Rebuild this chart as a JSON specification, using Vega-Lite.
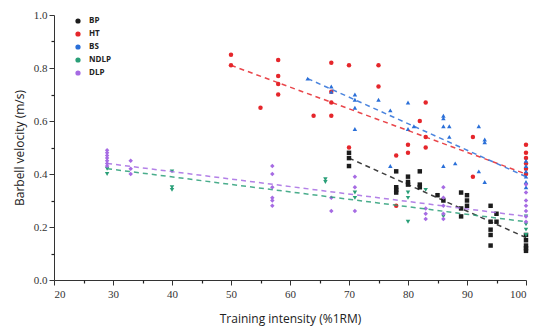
{
  "$schema": "https://vega.github.io/schema/vega-lite/v6.json",
  "width": 472,
  "height": 265,
  "autosize": {"type": "none"},
  "padding": {"left": 54, "top": 15, "right": 7, "bottom": 53},
  "background": "white",
  "config": {"view": {"stroke": null}, "legend": {"symbolType": "circle"}},
  "datasets": {
    "pts": [
      {"g": "HT", "x": 50, "y": 0.85}, {"g": "HT", "x": 50, "y": 0.81}, {"g": "HT", "x": 55, "y": 0.65},
      {"g": "HT", "x": 58, "y": 0.83}, {"g": "HT", "x": 58, "y": 0.77}, {"g": "HT", "x": 58, "y": 0.74}, {"g": "HT", "x": 58, "y": 0.70},
      {"g": "HT", "x": 64, "y": 0.62}, {"g": "HT", "x": 67, "y": 0.82}, {"g": "HT", "x": 67, "y": 0.71}, {"g": "HT", "x": 67, "y": 0.67}, {"g": "HT", "x": 67, "y": 0.62},
      {"g": "HT", "x": 70, "y": 0.81}, {"g": "HT", "x": 70, "y": 0.50}, {"g": "HT", "x": 75, "y": 0.81}, {"g": "HT", "x": 75, "y": 0.73},
      {"g": "HT", "x": 78, "y": 0.47}, {"g": "HT", "x": 78, "y": 0.28}, {"g": "HT", "x": 80, "y": 0.51}, {"g": "HT", "x": 80, "y": 0.48},
      {"g": "HT", "x": 82, "y": 0.60}, {"g": "HT", "x": 83, "y": 0.67}, {"g": "HT", "x": 83, "y": 0.54}, {"g": "HT", "x": 83, "y": 0.50},
      {"g": "HT", "x": 91, "y": 0.54}, {"g": "HT", "x": 91, "y": 0.39},
      {"g": "HT", "x": 100, "y": 0.51}, {"g": "HT", "x": 100, "y": 0.48}, {"g": "HT", "x": 100, "y": 0.46}, {"g": "HT", "x": 100, "y": 0.44}, {"g": "HT", "x": 100, "y": 0.42}, {"g": "HT", "x": 100, "y": 0.40},
      {"g": "BS", "x": 63, "y": 0.76}, {"g": "BS", "x": 67, "y": 0.73}, {"g": "BS", "x": 67, "y": 0.71},
      {"g": "BS", "x": 71, "y": 0.70}, {"g": "BS", "x": 71, "y": 0.68}, {"g": "BS", "x": 71, "y": 0.65}, {"g": "BS", "x": 71, "y": 0.57},
      {"g": "BS", "x": 75, "y": 0.68}, {"g": "BS", "x": 77, "y": 0.64}, {"g": "BS", "x": 77, "y": 0.43},
      {"g": "BS", "x": 80, "y": 0.67}, {"g": "BS", "x": 80, "y": 0.57}, {"g": "BS", "x": 81, "y": 0.58},
      {"g": "BS", "x": 86, "y": 0.62}, {"g": "BS", "x": 86, "y": 0.61}, {"g": "BS", "x": 86, "y": 0.58}, {"g": "BS", "x": 86, "y": 0.43},
      {"g": "BS", "x": 87, "y": 0.58}, {"g": "BS", "x": 87, "y": 0.54}, {"g": "BS", "x": 88, "y": 0.44},
      {"g": "BS", "x": 92, "y": 0.58}, {"g": "BS", "x": 92, "y": 0.41}, {"g": "BS", "x": 93, "y": 0.53}, {"g": "BS", "x": 93, "y": 0.52}, {"g": "BS", "x": 93, "y": 0.37},
      {"g": "BS", "x": 100, "y": 0.45}, {"g": "BS", "x": 100, "y": 0.43}, {"g": "BS", "x": 100, "y": 0.41}, {"g": "BS", "x": 100, "y": 0.39}, {"g": "BS", "x": 100, "y": 0.37}, {"g": "BS", "x": 100, "y": 0.35},
      {"g": "BP", "x": 70, "y": 0.48}, {"g": "BP", "x": 70, "y": 0.46}, {"g": "BP", "x": 70, "y": 0.43},
      {"g": "BP", "x": 78, "y": 0.41}, {"g": "BP", "x": 78, "y": 0.35}, {"g": "BP", "x": 78, "y": 0.34}, {"g": "BP", "x": 78, "y": 0.33},
      {"g": "BP", "x": 80, "y": 0.39}, {"g": "BP", "x": 80, "y": 0.37}, {"g": "BP", "x": 80, "y": 0.36},
      {"g": "BP", "x": 82, "y": 0.41}, {"g": "BP", "x": 82, "y": 0.36}, {"g": "BP", "x": 82, "y": 0.35},
      {"g": "BP", "x": 85, "y": 0.32}, {"g": "BP", "x": 86, "y": 0.30},
      {"g": "BP", "x": 89, "y": 0.33}, {"g": "BP", "x": 89, "y": 0.27}, {"g": "BP", "x": 89, "y": 0.24},
      {"g": "BP", "x": 90, "y": 0.32}, {"g": "BP", "x": 90, "y": 0.30}, {"g": "BP", "x": 90, "y": 0.28},
      {"g": "BP", "x": 94, "y": 0.28}, {"g": "BP", "x": 94, "y": 0.22}, {"g": "BP", "x": 94, "y": 0.19}, {"g": "BP", "x": 94, "y": 0.17}, {"g": "BP", "x": 94, "y": 0.13},
      {"g": "BP", "x": 95, "y": 0.25}, {"g": "BP", "x": 95, "y": 0.22},
      {"g": "BP", "x": 100, "y": 0.17}, {"g": "BP", "x": 100, "y": 0.15}, {"g": "BP", "x": 100, "y": 0.13}, {"g": "BP", "x": 100, "y": 0.12}, {"g": "BP", "x": 100, "y": 0.11},
      {"g": "NDLP", "x": 29, "y": 0.42}, {"g": "NDLP", "x": 29, "y": 0.40}, {"g": "NDLP", "x": 40, "y": 0.41}, {"g": "NDLP", "x": 40, "y": 0.35}, {"g": "NDLP", "x": 40, "y": 0.34},
      {"g": "NDLP", "x": 66, "y": 0.38}, {"g": "NDLP", "x": 66, "y": 0.37}, {"g": "NDLP", "x": 71, "y": 0.33}, {"g": "NDLP", "x": 71, "y": 0.31},
      {"g": "NDLP", "x": 80, "y": 0.33}, {"g": "NDLP", "x": 80, "y": 0.31}, {"g": "NDLP", "x": 80, "y": 0.22}, {"g": "NDLP", "x": 83, "y": 0.34}, {"g": "NDLP", "x": 86, "y": 0.24},
      {"g": "NDLP", "x": 100, "y": 0.24}, {"g": "NDLP", "x": 100, "y": 0.21}, {"g": "NDLP", "x": 100, "y": 0.19}, {"g": "NDLP", "x": 100, "y": 0.17},
      {"g": "DLP", "x": 29, "y": 0.49}, {"g": "DLP", "x": 29, "y": 0.48}, {"g": "DLP", "x": 29, "y": 0.47}, {"g": "DLP", "x": 29, "y": 0.46}, {"g": "DLP", "x": 29, "y": 0.45}, {"g": "DLP", "x": 29, "y": 0.44}, {"g": "DLP", "x": 29, "y": 0.43},
      {"g": "DLP", "x": 33, "y": 0.45}, {"g": "DLP", "x": 33, "y": 0.42}, {"g": "DLP", "x": 33, "y": 0.40},
      {"g": "DLP", "x": 57, "y": 0.43}, {"g": "DLP", "x": 57, "y": 0.40}, {"g": "DLP", "x": 57, "y": 0.35}, {"g": "DLP", "x": 57, "y": 0.31}, {"g": "DLP", "x": 57, "y": 0.30}, {"g": "DLP", "x": 57, "y": 0.28},
      {"g": "DLP", "x": 67, "y": 0.31}, {"g": "DLP", "x": 67, "y": 0.26},
      {"g": "DLP", "x": 71, "y": 0.39}, {"g": "DLP", "x": 71, "y": 0.35}, {"g": "DLP", "x": 71, "y": 0.26},
      {"g": "DLP", "x": 83, "y": 0.27}, {"g": "DLP", "x": 83, "y": 0.25}, {"g": "DLP", "x": 83, "y": 0.23},
      {"g": "DLP", "x": 86, "y": 0.35}, {"g": "DLP", "x": 86, "y": 0.31}, {"g": "DLP", "x": 86, "y": 0.28}, {"g": "DLP", "x": 86, "y": 0.25}, {"g": "DLP", "x": 86, "y": 0.23},
      {"g": "DLP", "x": 100, "y": 0.36}, {"g": "DLP", "x": 100, "y": 0.33}, {"g": "DLP", "x": 100, "y": 0.30}, {"g": "DLP", "x": 100, "y": 0.28}, {"g": "DLP", "x": 100, "y": 0.26}, {"g": "DLP", "x": 100, "y": 0.24}, {"g": "DLP", "x": 100, "y": 0.22}
    ],
    "fits": [
      {"g": "HT", "x": 50, "y": 0.81}, {"g": "HT", "x": 100, "y": 0.40},
      {"g": "BS", "x": 63, "y": 0.76}, {"g": "BS", "x": 100, "y": 0.39},
      {"g": "BP", "x": 70, "y": 0.46}, {"g": "BP", "x": 100, "y": 0.16},
      {"g": "DLP", "x": 29, "y": 0.44}, {"g": "DLP", "x": 100, "y": 0.24},
      {"g": "NDLP", "x": 29, "y": 0.42}, {"g": "NDLP", "x": 100, "y": 0.22}
    ]
  },
  "layer": [
    {
      "data": {"name": "pts"},
      "encoding": {
        "x": {"field": "x", "type": "quantitative", "scale": {"domain": [20, 100], "nice": false, "zero": false},
          "axis": {"orient": "bottom", "values": [20, 30, 40, 50, 60, 70, 80, 90, 100], "title": "Training intensity  (%1RM)", "grid": false,
            "domainColor": "#333", "tickColor": "#333", "tickSize": 5, "labelFont": "Liberation Serif", "labelFontSize": 11, "labelColor": "#333", "labelPadding": 3,
            "titleFont": "Open Sans", "titleFontSize": 12, "titleFontWeight": "normal", "titleColor": "#222", "titlePadding": 14}},
        "y": {"field": "y", "type": "quantitative", "scale": {"domain": [0, 1], "nice": false},
          "axis": {"orient": "left", "values": [0, 0.2, 0.4, 0.6, 0.8, 1.0], "format": ".1f", "title": "Barbell velocity  (m/s)", "grid": false,
            "domainColor": "#333", "tickColor": "#333", "tickSize": 5, "labelFont": "Liberation Serif", "labelFontSize": 11, "labelColor": "#333", "labelPadding": 2,
            "titleFont": "Open Sans", "titleFontSize": 12, "titleFontWeight": "normal", "titleColor": "#222", "titlePadding": 7}},
        "color": {"field": "g", "type": "nominal",
          "scale": {"domain": ["BP", "HT", "BS", "NDLP", "DLP"], "range": ["#1c1c1c", "#e5262b", "#2a6fd8", "#2a9f78", "#a66be3"]},
          "legend": {"title": null, "orient": "none", "legendX": 20, "legendY": 2, "symbolType": "circle", "symbolSize": 14,
            "labelFont": "Open Sans", "labelFontSize": 8, "labelFontWeight": "bold", "labelColor": "#222", "rowPadding": 3, "labelOffset": 7}}
      },
      "layer": [
        {"transform": [{"filter": "datum.g === 'BP'"}], "mark": {"type": "point", "filled": true, "size": 20, "shape": "square", "opacity": 1}},
        {"transform": [{"filter": "datum.g === 'HT'"}], "mark": {"type": "point", "filled": true, "size": 20, "shape": "circle", "opacity": 1}},
        {"transform": [{"filter": "datum.g === 'BS'"}], "mark": {"type": "point", "filled": true, "size": 20, "shape": "triangle-up", "opacity": 1}},
        {"transform": [{"filter": "datum.g === 'NDLP'"}], "mark": {"type": "point", "filled": true, "size": 20, "shape": "triangle-down", "opacity": 1}},
        {"transform": [{"filter": "datum.g === 'DLP'"}], "mark": {"type": "point", "filled": true, "size": 20, "shape": "diamond", "opacity": 1}}
      ]
    },
    {
      "data": {"name": "fits"},
      "mark": {"type": "line", "strokeDash": [5, 4], "strokeWidth": 1.5, "opacity": 0.85},
      "encoding": {
        "x": {"field": "x", "type": "quantitative", "scale": {"domain": [20, 100], "nice": false, "zero": false},
          "axis": {"orient": "bottom", "values": [25, 35, 45, 55, 65, 75, 85, 95], "labels": false, "domain": false, "title": null, "tickSize": 3, "tickColor": "#222", "tickWidth": 1.2, "grid": false}},
        "y": {"field": "y", "type": "quantitative", "scale": {"domain": [0, 1], "nice": false},
          "axis": {"orient": "left", "values": [0.1, 0.3, 0.5, 0.7, 0.9], "labels": false, "domain": false, "title": null, "tickSize": 3, "tickColor": "#222", "tickWidth": 1.2, "grid": false}},
        "color": {"field": "g", "type": "nominal"},
        "detail": {"field": "g"}
      }
    }
  ],
  "resolve": {"scale": {"x": "independent", "y": "independent"}, "axis": {"x": "independent", "y": "independent"}}
}
